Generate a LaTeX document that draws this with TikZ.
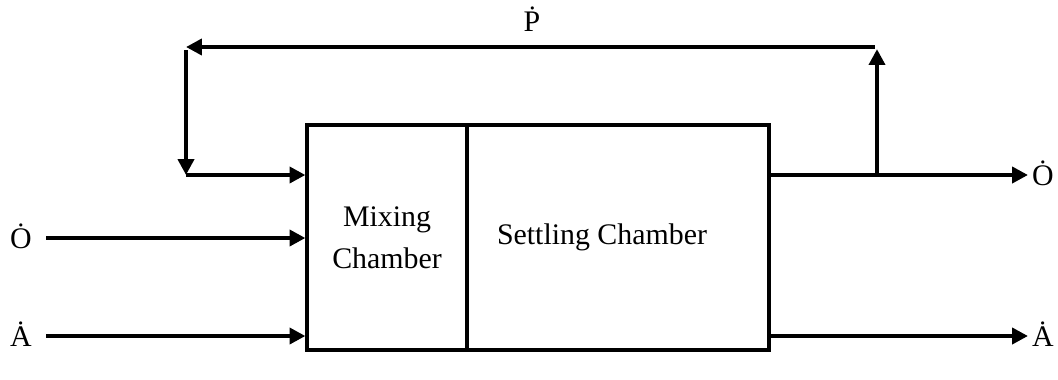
\documentclass[tikz,border=0pt]{standalone}
\usepackage{fontspec}
\setmainfont{Liberation Serif}
\usetikzlibrary{arrows.meta}
\begin{document}
\begin{tikzpicture}[x=0.02cm,y=-0.02cm,
  font=\fontsize{17}{20}\selectfont,
  arr/.style={line width=2.3pt,-{Triangle[length=9pt,width=9pt]}},
  ln/.style={line width=2.3pt},
  chamber/.style={draw,line width=1.8pt,minimum height=4.5cm,inner sep=0pt,align=center},
  lbl/.style={inner sep=0pt}]
\useasboundingbox (0,0) rectangle (1058,379);
\node[chamber,minimum width=3.2cm] (mix) at (387,237.5) {Mixing\\[4pt]Chamber};
\node[chamber,minimum width=6.04cm] (set) at (618,237.5) {};
\node[lbl] (settxt) at (602,237) {Settling Chamber};
% labels
\node[lbl] (oinl) at (21,236) {Ȯ};
\node[lbl] (ainl) at (21,334) {Ȧ};
\node[lbl] (ooutl) at (1043,173) {Ȯ};
\node[lbl] (aoutl) at (1043,334) {Ȧ};
\node[lbl] (pl) at (532,19) {\.{P}};
% coordinates
\coordinate (oin) at (46,238);
\coordinate (ain) at (46,336);
\coordinate (oout) at (1028,175);
\coordinate (aout) at (1028,336);
\coordinate (split) at (877,175);
\coordinate (tr) at (877,47);
\coordinate (tl) at (186,47);
\coordinate (ltop) at (186,50);
\coordinate (lbot) at (186,175);
% connectors
\draw[arr] (oin) -- (oin -| mix.west);
\draw[arr] (ain) -- (ain -| mix.west);
\draw[arr] (lbot) -- (lbot -| mix.west);
\draw[arr] (set.east |- oout) -- (oout);
\draw[arr] (set.east |- aout) -- (aout);
\draw[arr] (split) -- ([yshift=-1.2pt]tr);
\draw[arr] ([xshift=-1.15pt]tr) -- (tl);
\draw[arr] (ltop) -- (lbot);
\end{tikzpicture}
\end{document}
